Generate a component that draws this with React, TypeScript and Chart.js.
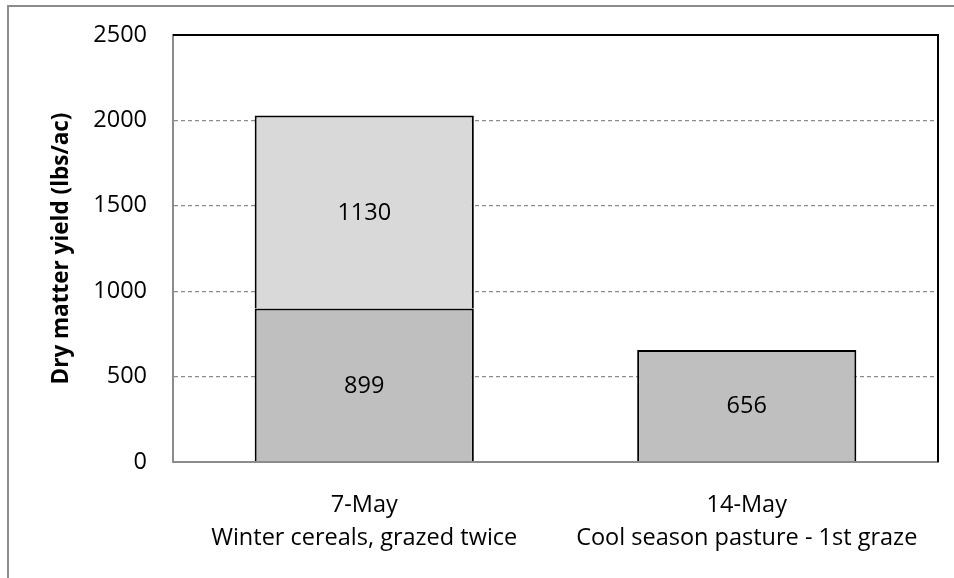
import React, { useEffect, useRef } from "react";
import { Chart, registerables } from "chart.js";

Chart.register(...registerables);

const categories: string[][] = [
  ["7-May", "Winter cereals, grazed twice"],
  ["14-May", "Cool season pasture - 1st graze"],
];
const firstGraze: number[] = [899, 656];
const secondGraze: (number | null)[] = [1130, null];
const yTicks: number[] = [0, 500, 1000, 1500, 2000, 2500];
const yTitle = "Dry matter yield (lbs/ac)";

const FONT = "'Open Sans', Lato, sans-serif";
const FS = 23.5;
const TITLE_FS = 22.5;

const W = 954;
const H = 578;
const PLOT_LEFT = 173;
const PLOT_RIGHT = 938;
const PLOT_TOP = 35;
const PLOT_BOTTOM = 462;

export default function App() {
  const ref = useRef<HTMLCanvasElement | null>(null);

  useEffect(() => {
    if (!ref.current) return;

    const framePlugin = {
      id: "frame",
      beforeDraw(chart: any) {
        const ctx = chart.ctx;
        ctx.save();
        ctx.fillStyle = "#ffffff";
        ctx.fillRect(0, 0, W, H);
        ctx.strokeStyle = "#8c8c8c";
        ctx.lineWidth = 2;
        ctx.beginPath();
        ctx.moveTo(8, H);
        ctx.lineTo(8, 6);
        ctx.lineTo(W, 6);
        ctx.stroke();
        ctx.restore();
      },
      afterDraw(chart: any) {
        const { ctx, chartArea } = chart;
        ctx.save();
        ctx.strokeStyle = "#000000";
        ctx.lineWidth = 2;
        ctx.beginPath();
        ctx.moveTo(chartArea.left, chartArea.top);
        ctx.lineTo(chartArea.right, chartArea.top);
        ctx.lineTo(chartArea.right, chartArea.bottom);
        ctx.stroke();
        // x axis line redrawn over bar bases
        ctx.strokeStyle = "#8c8c8c";
        ctx.beginPath();
        ctx.moveTo(chartArea.left - 1, chartArea.bottom);
        ctx.lineTo(chartArea.right - 1, chartArea.bottom);
        ctx.stroke();
        // y axis title
        ctx.translate(62, (chartArea.top + chartArea.bottom) / 2);
        ctx.rotate(-Math.PI / 2);
        ctx.font = `bold ${TITLE_FS}px ${FONT}`;
        ctx.fillStyle = "#000000";
        ctx.textAlign = "center";
        ctx.textBaseline = "middle";
        ctx.fillText(yTitle, 0, 0);
        ctx.restore();
      },
    };

    const labelPlugin = {
      id: "segLabels",
      afterDatasetsDraw(chart: any) {
        const ctx = chart.ctx;
        ctx.save();
        ctx.font = `${FS}px ${FONT}`;
        ctx.fillStyle = "#000000";
        ctx.textAlign = "center";
        ctx.textBaseline = "middle";
        chart.data.datasets.forEach((ds: any, di: number) => {
          const meta = chart.getDatasetMeta(di);
          meta.data.forEach((el: any, i: number) => {
            const v = ds.data[i];
            if (v === null || v === undefined) return;
            const p = el.getProps(["x", "y", "base"], true);
            ctx.fillText(String(v), p.x, (p.y + p.base) / 2 + 1);
          });
        });
        ctx.restore();
      },
    };

    const chart = new Chart(ref.current, {
      type: "bar",
      data: {
        labels: categories,
        datasets: [
          {
            label: "First",
            data: firstGraze,
            backgroundColor: "#bfbfbf",
            borderColor: "#000000",
            borderWidth: 2,
            borderSkipped: "bottom",
            barPercentage: 0.573,
            categoryPercentage: 1,
          },
          {
            label: "Second",
            data: secondGraze,
            backgroundColor: "#d9d9d9",
            borderColor: "#000000",
            borderWidth: 2,
            borderSkipped: "bottom",
            barPercentage: 0.573,
            categoryPercentage: 1,
          },
        ],
      },
      options: {
        responsive: false,
        animation: false,
        devicePixelRatio: 1,
        layout: {
          padding: { left: 0, right: W - PLOT_RIGHT, top: PLOT_TOP, bottom: 0 },
        },
        plugins: {
          legend: { display: false },
          tooltip: { enabled: false },
        },
        scales: {
          x: {
            stacked: true,
            grid: { display: false, drawTicks: false },
            border: { display: true, color: "#8c8c8c", width: 2 },
            ticks: {
              color: "#000000",
              padding: 27,
              font: { family: FONT, size: FS, lineHeight: 1.4 },
            },
            afterFit(scale: any) {
              scale.height = H - PLOT_BOTTOM;
            },
          },
          y: {
            stacked: true,
            min: 0,
            max: 2500,
            afterBuildTicks(scale: any) {
              scale.ticks = yTicks.map((v) => ({ value: v }));
            },
            grid: {
              color: (c: any) =>
                c.tick && (c.tick.value === 0 || c.tick.value === 2500)
                  ? "rgba(0,0,0,0)"
                  : "#8c8c8c",
              lineWidth: 1.3,
              drawTicks: false,
            },
            border: { display: true, color: "#8c8c8c", width: 2, dash: [4, 3] } as any,
            ticks: {
              color: "#000000",
              padding: 26,
              font: { family: FONT, size: FS, lineHeight: 0.5 },
              callback: (v: any) => String(v),
            },
            afterFit(scale: any) {
              scale.width = PLOT_LEFT;
            },
          },
        },
      },
      plugins: [framePlugin, labelPlugin],
    });

    return () => chart.destroy();
  }, []);

  return (
    <div style={{ position: "absolute", left: 0, top: 0, width: W, height: H }}>
      <canvas ref={ref} width={W} height={H} style={{ display: "block" }} />
    </div>
  );
}
